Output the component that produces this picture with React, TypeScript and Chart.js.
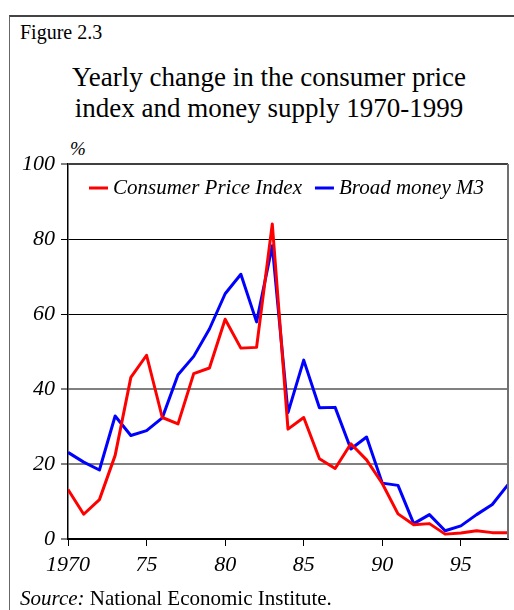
import React, { useEffect, useRef } from "react";
import { Chart, registerables } from "chart.js";

Chart.register(...registerables);

const years = [1970, 1971, 1972, 1973, 1974, 1975, 1976, 1977, 1978, 1979, 1980, 1981, 1982, 1983, 1984, 1985, 1986, 1987, 1988, 1989, 1990, 1991, 1992, 1993, 1994, 1995, 1996, 1997, 1998];
const cpi = [13.2, 6.6, 10.5, 22.3, 43.1, 49.0, 32.4, 30.7, 44.1, 45.6, 58.6, 50.9, 51.1, 84.0, 29.3, 32.4, 21.4, 18.8, 25.4, 21.1, 14.8, 6.7, 3.8, 4.1, 1.3, 1.6, 2.2, 1.7, 1.7];
const m3 = [23.1, 20.5, 18.4, 32.8, 27.6, 28.9, 32.3, 43.8, 48.7, 56.0, 65.4, 70.6, 57.9, 78.2, 33.7, 47.7, 35.0, 35.1, 24.0, 27.2, 14.9, 14.3, 4.1, 6.5, 2.2, 3.5, 6.5, 9.2, 14.5];
const seriesNames = ["Consumer Price Index", "Broad money M3"];
const xTickValues = [1970, 1975, 1980, 1985, 1990, 1995];
const xTickLabels = ["1970", "75", "80", "85", "90", "95"];
const yTickValues = [0, 20, 40, 60, 80, 100];
const yTickLabels = ["0", "20", "40", "60", "80", "100"];

const FONT = "'Liberation Serif', 'Times New Roman', serif";

const insideLegend = {
  id: "insideLegend",
  afterDraw(chart: any) {
    const { ctx, chartArea } = chart;
    const y = chartArea.top + 24;
    let x = chartArea.left + 21;
    ctx.save();
    ctx.font = `italic 21px ${FONT}`;
    ctx.textBaseline = "middle";
    ctx.textAlign = "left";
    chart.data.datasets.forEach((ds: any) => {
      ctx.strokeStyle = ds.borderColor;
      ctx.lineWidth = 3;
      ctx.beginPath();
      ctx.moveTo(x, y);
      ctx.lineTo(x + 19, y);
      ctx.stroke();
      ctx.fillStyle = "#000";
      ctx.fillText(ds.label, x + 24, y);
      x += 24 + ctx.measureText(ds.label).width + 13;
    });
    ctx.restore();
  },
};

const rightBorder = {
  id: "rightBorder",
  afterDraw(chart: any) {
    const { ctx, chartArea } = chart;
    ctx.save();
    ctx.strokeStyle = "#707070";
    ctx.lineWidth = 2;
    ctx.beginPath();
    ctx.moveTo(chartArea.right, chartArea.top);
    ctx.lineTo(chartArea.right, chartArea.bottom);
    ctx.stroke();
    ctx.restore();
  },
};

function gridColor(v: number) {
  if (v === 100) return "#404040";
  if (v === 80 || v === 60) return "#000000";
  if (v === 40 || v === 20) return "#808080";
  return "rgba(0,0,0,0)";
}
function gridWidth(v: number) {
  if (v === 80 || v === 60) return 1;
  return 2;
}

export default function App() {
  const ref = useRef<HTMLCanvasElement | null>(null);
  useEffect(() => {
    if (!ref.current) return;
    const chart = new Chart(ref.current, {
      type: "line",
      data: {
        datasets: [
          {
            label: seriesNames[0],
            data: years.map((yr, i) => ({ x: yr, y: cpi[i] })),
            borderColor: "#ff0000",
            borderWidth: 3,
            borderJoinStyle: "round",
            pointRadius: 0,
            tension: 0,
            fill: false,
          },
          {
            label: seriesNames[1],
            data: years.map((yr, i) => ({ x: yr, y: m3[i] })),
            borderColor: "#0000ff",
            borderWidth: 3,
            borderJoinStyle: "round",
            pointRadius: 0,
            tension: 0,
            fill: false,
          },
        ],
      },
      options: {
        animation: false,
        responsive: false,
        layout: { padding: { top: 164, left: 0, right: 6, bottom: 0 } },
        plugins: {
          legend: { display: false },
          tooltip: { enabled: false },
          title: { display: false },
        },
        scales: {
          x: {
            type: "linear",
            min: years[0],
            max: years[years.length - 1],
            afterBuildTicks: (scale: any) => {
              scale.ticks = xTickValues.map((value) => ({ value }));
            },
            afterFit: (scale: any) => {
              scale.height = 71;
            },
            ticks: {
              callback: (value: any) => xTickLabels[xTickValues.indexOf(Number(value))] ?? "",
              font: { family: FONT, size: 22, style: "italic" },
              color: "#000",
              padding: 6,
              maxRotation: 0,
              autoSkip: false,
            },
            grid: {
              drawOnChartArea: false,
              drawTicks: true,
              tickLength: 7,
              tickColor: "#000",
              tickWidth: 1,
            },
            border: { display: true, color: "#000", width: 2 },
          },
          y: {
            min: 0,
            max: 100,
            afterBuildTicks: (scale: any) => {
              scale.ticks = yTickValues.map((value) => ({ value }));
            },
            afterFit: (scale: any) => {
              scale.width = 68;
            },
            ticks: {
              callback: (value: any) => yTickLabels[yTickValues.indexOf(Number(value))] ?? "",
              font: { family: FONT, size: 22, style: "italic" },
              color: "#000",
              padding: 6,
            },
            grid: {
              color: (ctx: any) => gridColor(ctx.tick ? ctx.tick.value : -1),
              lineWidth: (ctx: any) => gridWidth(ctx.tick ? ctx.tick.value : -1),
              drawTicks: true,
              tickLength: 7,
              tickColor: "#000",
              tickWidth: 1,
            },
            border: { display: true, color: "#000", width: 1.5 },
          },
        },
      },
      plugins: [insideLegend, rightBorder],
    });
    return () => chart.destroy();
  }, []);

  return (
    <div style={{ position: "fixed", left: 0, top: 0, width: 514, height: 610, overflow: "hidden", background: "#fff" }}>
      <div
        style={{
          position: "absolute",
          left: 9,
          top: 15,
          width: 520,
          height: 640,
          borderTop: "2px solid #444",
          borderLeft: "1px solid #666",
          boxSizing: "border-box",
        }}
      />
      <div style={{ position: "absolute", left: 20, top: 22, fontFamily: FONT, fontSize: 20, lineHeight: "20px", color: "#000", whiteSpace: "nowrap" }}>
        Figure 2.3
      </div>
      <div
        style={{
          position: "absolute",
          left: 0,
          top: 62,
          width: 538,
          textAlign: "center",
          fontFamily: FONT,
          fontSize: 27,
          lineHeight: "31px",
          color: "#000",
        }}
      >
        Yearly change in the consumer price
        <br />
        index and money supply 1970-1999
      </div>
      <div style={{ position: "absolute", left: 70, top: 139, fontFamily: FONT, fontSize: 19, lineHeight: "19px", fontStyle: "italic", color: "#000" }}>
        %
      </div>
      <canvas ref={ref} width={514} height={610} style={{ position: "absolute", left: 0, top: 0, width: 514, height: 610 }} />
      <div style={{ position: "absolute", left: 20, top: 588, fontFamily: FONT, fontSize: 21, lineHeight: "20px", color: "#000", whiteSpace: "nowrap" }}>
        <i>Source:</i> National Economic Institute.
      </div>
    </div>
  );
}
